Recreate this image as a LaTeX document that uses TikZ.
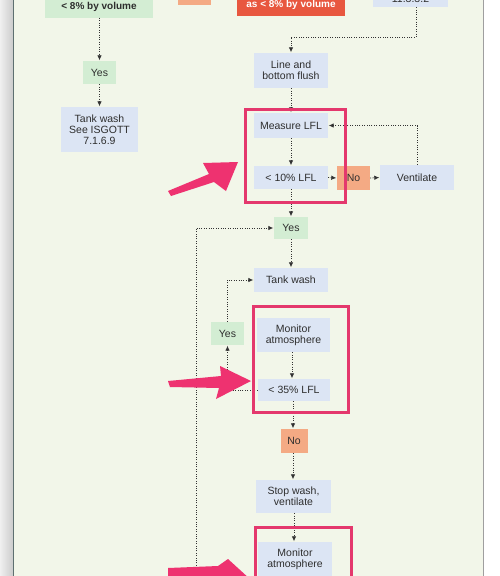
\documentclass[tikz,border=0pt]{standalone}
\usepackage{fontspec}
\setmainfont{Liberation Sans}
\usetikzlibrary{arrows.meta}
\definecolor{paper}{HTML}{F2F6E9}
\definecolor{boxblue}{HTML}{DCE5F4}
\definecolor{boxgreen}{HTML}{D3EDD3}
\definecolor{boxorange}{HTML}{F4AA84}
\definecolor{boxred}{HTML}{E8573F}
\definecolor{framepink}{HTML}{E4386D}
\definecolor{arrowpink}{HTML}{EE3270}
\definecolor{txt}{HTML}{2E2E2E}
\definecolor{edgeline}{HTML}{5E7070}
\begin{document}
\begin{tikzpicture}[x=1pt,y=-1pt,
  fc/.style={rectangle, inner sep=0pt, align=center, text=txt,
    font=\fontsize{10.5}{11}\selectfont},
  bluebox/.style={fc, fill=boxblue},
  greenbox/.style={fc, fill=boxgreen},
  orangebox/.style={fc, fill=boxorange},
  conn/.style={draw=black!80, line width=0.8pt, dash pattern=on 1pt off 1.4pt,
    -{Latex[length=5pt,width=4.5pt]}, shorten >=0.5pt},
  frame/.style={draw=framepink, line width=3pt},
  bigarrow/.style={fill=arrowpink}]
\useasboundingbox (0,0) rectangle (500,576);
\clip (0,0) rectangle (500,576);
% paper
\fill[paper] (0,0) rectangle (483,576);
\fill[white] (483,0) rectangle (500,576);
\draw[gray!75, line width=1pt] (483.5,0) -- (483.5,576);
\shade[left color=gray!12, right color=gray!40] (0,0) rectangle (13,576);
\draw[edgeline, line width=1.2pt] (13.6,0) -- (13.6,576);

% top row (cut off)
\node[greenbox, font=\fontsize{10}{11}\selectfont\bfseries, minimum width=108pt,
  text height=19pt, text depth=8pt, anchor=base] (g1) at (99,9.5) {< 8\% by volume};
\node[orangebox, minimum width=33pt, minimum height=20pt] (otop) at (194.5,-5) {};
\node[fc, fill=boxred, text=white, font=\fontsize{10}{11}\selectfont\bfseries,
  minimum width=108pt, text height=18pt, text depth=8.5pt, anchor=base] (red) at (291,7.5) {as < 8\% by volume};
\node[bluebox, minimum width=75pt, text height=19.5pt, text depth=4.5pt, anchor=base] (tr) at (410.5,2.5) {11.3.3.2};

% left column
\node[greenbox, minimum width=33pt, minimum height=23pt] (yes1) at (99.5,72.5) {Yes};
\node[bluebox, minimum width=77pt, minimum height=45pt] (tw1) at (99.5,129.5) {Tank wash\\See ISGOTT\\7.1.6.9};

% main column
\node[bluebox, minimum width=74pt, minimum height=35pt] (lbf) at (291,70.5) {Line and\\bottom flush};
\node[bluebox, minimum width=74pt, minimum height=25pt] (mlfl) at (291,125.5) {Measure LFL};
\node[bluebox, minimum width=74pt, minimum height=23pt] (l10) at (291,177.5) {< 10\% LFL};
\node[orangebox, minimum width=33pt, minimum height=24pt] (no1) at (353.5,178) {No};
\node[bluebox, minimum width=74pt, minimum height=25pt] (vent) at (417,177.5) {Ventilate};
\node[greenbox, minimum width=34pt, minimum height=22pt] (yes2) at (291,228) {Yes};
\node[bluebox, minimum width=74pt, minimum height=24pt] (tw2) at (291,280) {Tank wash};
\node[greenbox, minimum width=33pt, minimum height=23pt] (yes3) at (227.5,333.5) {Yes};
\node[bluebox, minimum width=73pt, minimum height=34pt] (mon1) at (293.5,335) {Monitor\\atmosphere};
\node[bluebox, minimum width=72pt, minimum height=22pt] (l35) at (294,390) {< 35\% LFL};
\node[orangebox, minimum width=27pt, minimum height=24pt] (no2) at (294,441) {No};
\node[bluebox, minimum width=75pt, minimum height=33pt] (swv) at (293.5,496.5) {Stop wash,\\ventilate};
\node[bluebox, minimum width=74pt, minimum height=35pt] (mon2) at (295,559.5) {Monitor\\atmosphere};
\coordinate (loop) at (196,585);

% connectors
\draw[conn] (g1.south -| yes1.north) -- (yes1.north);
\draw[conn] (yes1.south) -- (tw1.north);
\draw[conn] ([xshift=5.5pt]tr.south) -- ++(0,30) -| (lbf.north);
\draw[conn] (lbf.south) -- (mlfl.north);
\draw[conn] (mlfl.south) -- (l10.north);
\draw[conn] (l10.east) -- (no1.west);
\draw[conn] (no1.east) -- (vent.west);
\draw[conn] (vent.north) |- (mlfl.east);
\draw[conn] (l10.south) -- (yes2.north);
\draw[conn] (loop) |- (yes2.west);
\draw[conn] (yes2.south) -- (tw2.north);
\draw[conn] (yes3.north) |- (tw2.west);
\draw[conn] (l35.west) -| (yes3.south);
\draw[conn] (mon1.south -| 292,0) -- (l35.north -| 292,0);
\draw[conn] (l35.south -| 293,0) -- (no2.north -| 293,0);
\draw[conn] (no2.south -| 293,0) -- (swv.north -| 293,0);
\draw[conn] (swv.south -| 294,0) -- (mon2.north -| 294,0);

% pink frames
\draw[frame] (245,109) rectangle (345,202);
\draw[frame] (253,306) rectangle (348,412);
\draw[frame] (255,527) rectangle (351,600);

% pink pointer arrows
\fill[bigarrow] (168,191) -- (209,174) -- (203,163) -- (238,162)
  -- (226,191) -- (214,182) -- (171,196) -- cycle;
\fill[bigarrow] (168,381) -- (221,376) -- (220,366) -- (251,381)
  -- (216,399) -- (219,388) -- (170,387) -- cycle;
\fill[bigarrow] (168,568) -- (218,566) -- (228,559) -- (262,590)
  -- (168,590) -- cycle;
\end{tikzpicture}
\end{document}
